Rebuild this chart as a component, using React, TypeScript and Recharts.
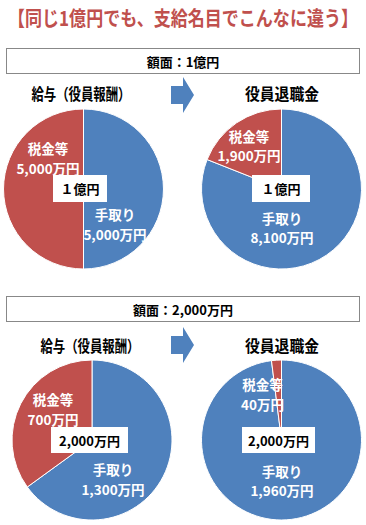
import React from 'react'
import { PieChart, Pie, Cell } from 'recharts'

// values in 万円
const sliceNames = ['手取り', '税金等']
const salary100m = [5000, 5000]
const retire100m = [8100, 1900]
const salary20m = [1300, 700]
const retire20m = [1960, 40]
const totals = ['１億円', '2,000万円']
const faceValues = ['額面：1億円', '額面：2,000万円']
const chartTitles = ['給与（役員報酬）', '役員退職金']
const heading = '【同じ1億円でも、支給名目でこんなに違う】'

const BLUE = '#4f81bd'
const RED = '#c0504d'
const FONT = '"Noto Sans CJK JP", "Noto Sans", sans-serif'

const toData = (values: number[]) =>
  sliceNames.map((name, i) => ({ name, value: values[i] }))

// pie placement + manual label offsets (from the pie centre)
const pies = [
  { values: salary100m, cx: 83.5, cy: 189, offsets: [[31.5, 36], [-35.5, -30]] },
  { values: retire100m, cx: 281.5, cy: 189, offsets: [[0.5, 39.5], [-32.5, -42.5]] },
  { values: salary20m, cx: 92, cy: 440, offsets: [[21, 40], [-39, -30]] },
  { values: retire20m, cx: 281.5, cy: 440, offsets: [[0.5, 41.5], [-19, -45]] },
]

const fmt = (v: number) => v.toLocaleString('en-US') + '万円'

const renderLabel = (offsets: number[][]) => (props: any) => {
  const { cx, cy, index, name, value } = props
  const [dx, dy] = offsets[index]
  const x = cx + dx
  const y = cy + dy
  return (
    <text x={x} y={y - 5} textAnchor="middle" fill="#fff"
      fontSize={13.5} fontWeight="bold" fontFamily={FONT}>
      <tspan x={x}>{name}</tspan>
      <tspan x={x} dy={19.5}>{fmt(value)}</tspan>
    </text>
  )
}

const Arrow = ({ cy }: { cy: number }) => (
  <polygon
    points={`171,${cy - 9} 183,${cy - 9} 183,${cy - 18} 194,${cy} 183,${cy + 18} 183,${cy + 9} 171,${cy + 9}`}
    fill={BLUE}
  />
)

const CenterBox = ({ x, y, w, h, text }: { x: number; y: number; w: number; h: number; text: string }) => (
  <g>
    <rect x={x} y={y} width={w} height={h} fill="#fff" />
    <text x={x + w / 2} y={y + h / 2} textAnchor="middle" dominantBaseline="central"
      fontSize={13} fontWeight="bold" fontFamily={FONT} fill="#000">{text}</text>
  </g>
)

export default function App() {
  const sections = [
    { boxTop: 48, titleY: 93, arrowY: 95 },
    { boxTop: 296, titleY: 345, arrowY: 345 },
  ]
  return (
    <div style={{ position: 'relative', width: 366, height: 525, background: '#fff' }}>
      <style>{'body{margin:0}'}</style>
      <div style={{ position: 'absolute', left: 0, top: 0 }}>
        <PieChart width={366} height={525} margin={{ top: 0, right: 0, bottom: 0, left: 0 }}>
          {pies.map((p, i) => (
            <Pie
              key={i}
              data={toData(p.values)}
              dataKey="value"
              nameKey="name"
              cx={p.cx}
              cy={p.cy}
              outerRadius={80}
              startAngle={90}
              endAngle={-270}
              stroke="#fff"
              strokeWidth={1}
              labelLine={false}
              label={renderLabel(p.offsets)}
              isAnimationActive={false}
            >
              <Cell fill={BLUE} />
              <Cell fill={RED} />
            </Pie>
          ))}
        </PieChart>
      </div>
      <svg width={366} height={525} style={{ position: 'absolute', left: 0, top: 0, pointerEvents: 'none' }}>
        <g transform="translate(0,17) scale(1,1.2)">
          <text x={183} y={0} textAnchor="middle" dominantBaseline="central" fontSize={17}
            fontWeight="bold" fontFamily={FONT} fill={RED} textLength={350} lengthAdjust="spacingAndGlyphs">
            {heading}
          </text>
        </g>
        {sections.map((s, i) => (
          <g key={i}>
            <rect x={6.5} y={s.boxTop + 0.5} width={353} height={25} fill="#fff" stroke="#888" strokeWidth={1} />
            <text x={183} y={s.boxTop + 13} textAnchor="middle" dominantBaseline="central" fontSize={13}
              fontWeight="bold" fontFamily={FONT} fill="#000">{faceValues[i]}</text>
            <text x={i === 0 ? 81 : 90} y={s.titleY} textAnchor="middle" dominantBaseline="central" fontSize={16}
              fontWeight="bold" fontFamily={FONT} fill="#000" textLength={99} lengthAdjust="spacingAndGlyphs">
              {chartTitles[0]}
            </text>
            <text x={282} y={s.titleY} textAnchor="middle" dominantBaseline="central" fontSize={16}
              fontWeight="bold" fontFamily={FONT} fill="#000" textLength={74} lengthAdjust="spacingAndGlyphs">
              {chartTitles[1]}
            </text>
            <Arrow cy={s.arrowY} />
          </g>
        ))}
        <CenterBox x={53} y={175} w={54} h={27} text={totals[0]} />
        <CenterBox x={252} y={175} w={58} h={27} text={totals[0]} />
        <CenterBox x={51} y={427} w={77} h={26} text={totals[1]} />
        <CenterBox x={242} y={427} w={73} h={26} text={totals[1]} />
      </svg>
    </div>
  )
}
